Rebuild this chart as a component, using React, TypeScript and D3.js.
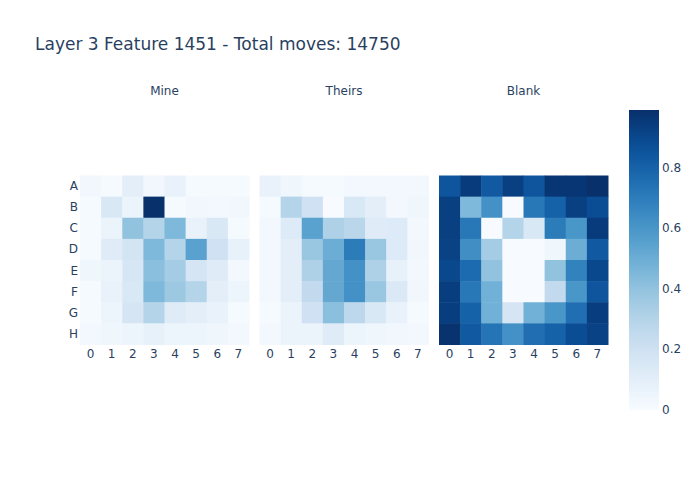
import React from "react";
import * as d3 from "d3";

const rows = ["A", "B", "C", "D", "E", "F", "G", "H"];
const cols = ["0", "1", "2", "3", "4", "5", "6", "7"];
const panelTitles = ["Mine", "Theirs", "Blank"];

const mine = [
  [0.03, 0.01, 0.1, 0.03, 0.07, 0.01, 0.01, 0.01],
  [0.01, 0.15, 0.06, 0.99, 0.01, 0.03, 0.02, 0.03],
  [0.01, 0.06, 0.4, 0.3, 0.45, 0.07, 0.15, 0.01],
  [0.01, 0.12, 0.18, 0.45, 0.3, 0.55, 0.2, 0.08],
  [0.04, 0.06, 0.16, 0.42, 0.35, 0.17, 0.12, 0.02],
  [0.01, 0.07, 0.15, 0.45, 0.37, 0.3, 0.1, 0.05],
  [0.01, 0.05, 0.17, 0.3, 0.12, 0.1, 0.07, 0.01],
  [0.02, 0.04, 0.05, 0.08, 0.05, 0.05, 0.04, 0.02],
];

const theirs = [
  [0.07, 0.04, 0.01, 0.01, 0.02, 0.02, 0.02, 0.02],
  [0.01, 0.3, 0.2, 0.0, 0.15, 0.1, 0.02, 0.04],
  [0.02, 0.13, 0.55, 0.32, 0.28, 0.12, 0.13, 0.02],
  [0.02, 0.1, 0.38, 0.5, 0.7, 0.38, 0.13, 0.03],
  [0.02, 0.1, 0.32, 0.52, 0.62, 0.32, 0.08, 0.02],
  [0.02, 0.1, 0.25, 0.52, 0.62, 0.38, 0.14, 0.03],
  [0.01, 0.06, 0.2, 0.42, 0.27, 0.15, 0.07, 0.01],
  [0.02, 0.06, 0.06, 0.12, 0.05, 0.04, 0.03, 0.02],
];

const blank = [
  [0.85, 0.95, 0.83, 0.93, 0.85, 0.97, 0.97, 0.99],
  [0.93, 0.45, 0.62, 0.0, 0.72, 0.8, 0.93, 0.88],
  [0.93, 0.72, 0.0, 0.3, 0.15, 0.7, 0.6, 0.95],
  [0.92, 0.63, 0.35, 0.0, 0.0, 0.04, 0.5, 0.83],
  [0.9, 0.77, 0.4, 0.0, 0.0, 0.4, 0.68, 0.9],
  [0.94, 0.72, 0.48, 0.0, 0.0, 0.25, 0.6, 0.85],
  [0.94, 0.8, 0.48, 0.17, 0.48, 0.6, 0.75, 0.94],
  [0.98, 0.83, 0.73, 0.62, 0.75, 0.8, 0.88, 0.92],
];

const colorTicks = [0, 0.2, 0.4, 0.6, 0.8];

const panels = [mine, theirs, blank];
const FONT = '"DejaVu Sans", verdana, arial, sans-serif';
const TEXT = "#2a3f5f";

export default function App() {
  const W = 700, H = 500;
  const vmax = 0.99;
  const color = (v: number) => d3.interpolateBlues(Math.max(0, Math.min(1, v / vmax)));
  const panelX0 = [80, 259.5, 439];
  const pw = 169;
  const top = 175.5;
  const ph = 169;
  const y = d3.scaleBand().domain(rows).range([top, top + ph]).padding(0);
  const cbTop = 110, cbBot = 410, cbX = 629, cbW = 30;
  const cbScale = d3.scaleLinear().domain([0, vmax]).range([cbBot, cbTop]);
  const stops = d3.range(0, 1.0001, 0.05);

  return (
    <svg width={W} height={H} style={{ position: "absolute", left: 0, top: 0, background: "#fff" }} fontFamily={FONT}>
      <defs>
        <linearGradient id="cb" x1="0" y1="1" x2="0" y2="0">
          {stops.map((s, i) => (
            <stop key={i} offset={s} stopColor={d3.interpolateBlues(s)} />
          ))}
        </linearGradient>
      </defs>
      <text x={35} y={50} fontSize={17} fill={TEXT}>Layer 3 Feature 1451 - Total moves: 14750</text>
      {panels.map((data, p) => {
        const x = d3.scaleBand().domain(cols).range([panelX0[p], panelX0[p] + pw]).padding(0);
        return (
          <g key={p}>
            <text x={panelX0[p] + pw / 2} y={95} fontSize={12} fill={TEXT} textAnchor="middle">{panelTitles[p]}</text>
            {data.map((row, r) =>
              row.map((v, c) => (
                <rect key={`${r}-${c}`} x={x(cols[c])} y={y(rows[r])} width={x.bandwidth() + 0.5} height={y.bandwidth() + 0.5} fill={color(v)} />
              ))
            )}
            {cols.map((c) => (
              <text key={c} x={(x(c) as number) + x.bandwidth() / 2} y={top + ph + 13} fontSize={12} fill={TEXT} textAnchor="middle">{c}</text>
            ))}
            {p === 0 && rows.map((r) => (
              <text key={r} x={panelX0[0] - 2} y={(y(r) as number) + y.bandwidth() / 2 + 4} fontSize={12} fill={TEXT} textAnchor="end">{r}</text>
            ))}
          </g>
        );
      })}
      <rect x={cbX} y={cbTop} width={cbW} height={cbBot - cbTop} fill="url(#cb)" />
      {colorTicks.map((t) => (
        <text key={t} x={cbX + cbW + 3} y={cbScale(t) + 4} fontSize={12} fill={TEXT}>{t}</text>
      ))}
    </svg>
  );
}
